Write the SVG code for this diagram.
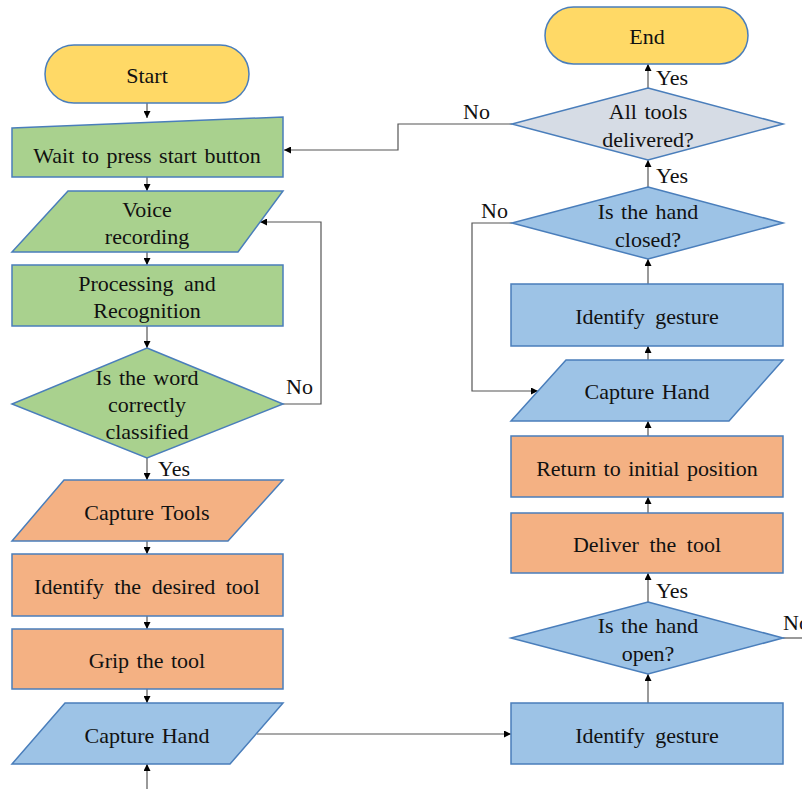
<svg xmlns="http://www.w3.org/2000/svg" width="802" height="789" viewBox="0 0 802 789">
<defs>
<marker id="ah" viewBox="0 0 10 10" refX="10" refY="5" markerWidth="7" markerHeight="7" markerUnits="userSpaceOnUse" orient="auto">
<path d="M0,0 L10,5 L0,10 z" fill="#000"/>
</marker>
<style>
.s{stroke:#4a7ebb;stroke-width:1.5}
.g{fill:#a9d18e}.o{fill:#f4b183}.b{fill:#9dc3e6}.y{fill:#ffd966}.gr{fill:#d6dce5}
text{font-size:22px;fill:#111;text-anchor:middle;dominant-baseline:central;word-spacing:2px}
.lb{text-anchor:start}
.w{word-spacing:5px}
.c{fill:none;stroke:#555;stroke-width:1.2}
</style>
</defs>
<rect width="802" height="789" fill="#fff"/>
<g font-family="Liberation Serif, DejaVu Serif, serif">
<g id="connectors">
<path class="c" d="M147,103 V118" marker-end="url(#ah)"/>
<path class="c" d="M147,177 V191" marker-end="url(#ah)"/>
<path class="c" d="M147,252 V265" marker-end="url(#ah)"/>
<path class="c" d="M147,326 V348" marker-end="url(#ah)"/>
<path class="c" d="M283,404 H321 V222 H260" marker-end="url(#ah)"/>
<path class="c" d="M147,458 V480" marker-end="url(#ah)"/>
<path class="c" d="M147,541 V554" marker-end="url(#ah)"/>
<path class="c" d="M147,616 V629" marker-end="url(#ah)"/>
<path class="c" d="M147,689 V703" marker-end="url(#ah)"/>
<path class="c" d="M147,789 V764" marker-end="url(#ah)"/>
<path class="c" d="M257,734 H511" marker-end="url(#ah)"/>
<path class="c" d="M648,703 V674" marker-end="url(#ah)"/>
<path class="c" d="M783,638 H802"/>
<path class="c" d="M648,602 V573" marker-end="url(#ah)"/>
<path class="c" d="M648,513 V497" marker-end="url(#ah)"/>
<path class="c" d="M648,436 V421" marker-end="url(#ah)"/>
<path class="c" d="M648,360 V346" marker-end="url(#ah)"/>
<path class="c" d="M648,284 V259" marker-end="url(#ah)"/>
<path class="c" d="M512,223 H472 V391 H538" marker-end="url(#ah)"/>
<path class="c" d="M648,187 V160" marker-end="url(#ah)"/>
<path class="c" d="M648,88 V64" marker-end="url(#ah)"/>
<path class="c" d="M512,124 H398 V150 H284" marker-end="url(#ah)"/>
<text class="lb" x="286" y="386">No</text>
<text class="lb" x="158" y="468">Yes</text>
<text class="lb" x="656" y="590">Yes</text>
<text class="lb" x="783" y="622">No</text>
<text class="lb" x="656" y="175">Yes</text>
<text class="lb" x="656" y="77">Yes</text>
<text class="lb" x="481" y="210">No</text>
<text class="lb" x="463" y="111">No</text>
</g>
<g id="start"><rect class="s y" x="45" y="45" width="204" height="58" rx="29"/><text x="147" y="75">Start</text></g>
<g id="wait"><path class="s g" d="M12,128 L283,117 L283,177 L12,177 Z"/><text x="147" y="155">Wait to press start button</text></g>
<g id="voice"><path class="s g" d="M68,191 L283,191 L238,252 L12,252 Z"/><text x="147" y="209">Voice</text><text x="147" y="236">recording</text></g>
<g id="processing"><rect class="s g" x="12" y="265" width="271" height="61"/><text class="w" x="147" y="283">Processing and</text><text x="147" y="310">Recognition</text></g>
<g id="word"><path class="s g" d="M147,348 L283,404 L147,458 L12,404 Z"/><text x="147" y="377">Is the word</text><text x="147" y="404">correctly</text><text x="147" y="431">classified</text></g>
<g id="capture-tools"><path class="s o" d="M64,480 L283,480 L228,541 L12,541 Z"/><text x="147" y="512">Capture Tools</text></g>
<g id="identify-tool"><rect class="s o" x="12" y="554" width="271" height="62"/><text class="w" x="147" y="586">Identify the desired tool</text></g>
<g id="grip"><rect class="s o" x="12" y="629" width="271" height="60"/><text x="147" y="660">Grip the tool</text></g>
<g id="capture-hand-1"><path class="s b" d="M65,703 L283,703 L230,764 L12,764 Z"/><text x="147" y="735">Capture Hand</text></g>
<g id="identify-gesture-1"><rect class="s b" x="511" y="703" width="272" height="61"/><text class="w" x="647" y="735">Identify gesture</text></g>
<g id="hand-open"><path class="s b" d="M648,602 L783,638 L648,674 L511,638 Z"/><text x="648" y="625">Is the hand</text><text x="648" y="653">open?</text></g>
<g id="deliver"><rect class="s o" x="511" y="513" width="272" height="60"/><text class="w" x="647" y="544">Deliver the tool</text></g>
<g id="return"><rect class="s o" x="511" y="436" width="272" height="61"/><text x="647" y="468">Return to initial position</text></g>
<g id="capture-hand-2"><path class="s b" d="M566,360 L783,360 L729,421 L511,421 Z"/><text x="647" y="391">Capture Hand</text></g>
<g id="identify-gesture-2"><rect class="s b" x="511" y="284" width="272" height="62"/><text class="w" x="647" y="316">Identify gesture</text></g>
<g id="hand-closed"><path class="s b" d="M648,187 L783,223 L648,259 L512,223 Z"/><text x="648" y="211">Is the hand</text><text x="648" y="239">closed?</text></g>
<g id="all-tools"><path class="s gr" d="M648,88 L783,124 L648,160 L512,124 Z"/><text x="648" y="111">All tools</text><text x="648" y="139">delivered?</text></g>
<g id="end"><rect class="s y" x="545" y="7" width="203" height="57" rx="28.5"/><text x="647" y="36">End</text></g>
</g>
</svg>
